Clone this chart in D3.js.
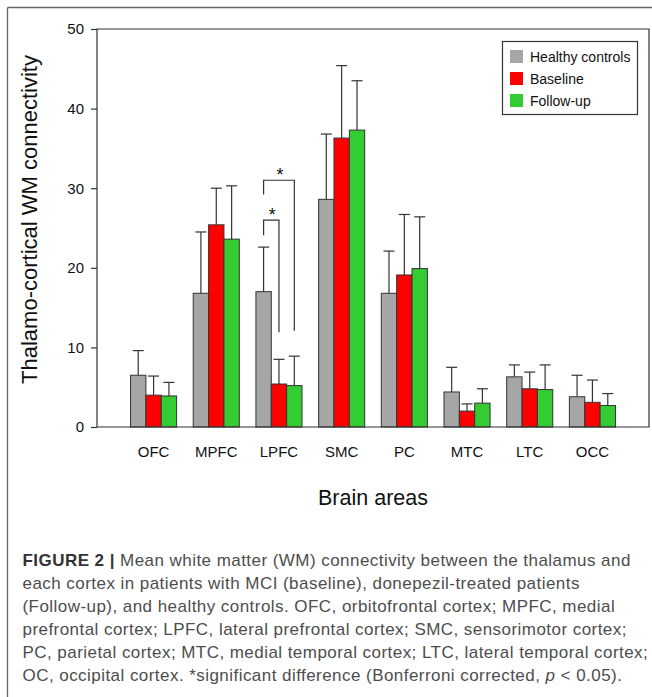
<!DOCTYPE html>
<html>
<head>
<meta charset="utf-8">
<script src="https://cdn.jsdelivr.net/npm/d3@7"></script>
<style>
  body { margin: 0; background: #fff; }
  svg { display: block; font-family: "Liberation Sans", Arial, sans-serif; }
</style>
</head>
<body>
<svg id="chart" width="652" height="697"></svg>
<script>
// brain areas on the x axis
var areas = ["OFC", "MPFC", "LPFC", "SMC", "PC", "MTC", "LTC", "OCC"];
var groups = ["Healthy controls", "Baseline", "Follow-up"];
var colors = ["#a6a6a6", "#ff0000", "#33cc33"];

// means
var controlMean = [6.5, 16.8, 17.0, 28.6, 16.8, 4.4, 6.3, 3.8];
var baselineMean = [4.0, 25.4, 5.4, 36.3, 19.1, 2.0, 4.8, 3.1];
var followupMean = [3.9, 23.6, 5.2, 37.3, 19.9, 3.0, 4.7, 2.7];

// upper end of each error bar
var controlErr = [9.6, 24.5, 22.6, 36.8, 22.1, 7.5, 7.8, 6.5];
var baselineErr = [6.4, 30.0, 8.5, 45.4, 26.7, 2.9, 6.9, 5.9];
var followupErr = [5.6, 30.3, 8.9, 43.5, 26.4, 4.8, 7.8, 4.2];

var yTicks = [0, 10, 20, 30, 40, 50];

// significance brackets (LPFC): top, left leg end, right leg end
var sigArea = ["LPFC", "LPFC"];
var sigFrom = ["Healthy controls", "Healthy controls"];
var sigTo = ["Baseline", "Follow-up"];
var sigTop = [26, 31];
var sigLeftEnd = [24.1, 29.2];
var sigRightEnd = [11.9, 12.1];

var captionLines = [
  "Mean white matter (WM) connectivity between the thalamus and",
  "each cortex in patients with MCI (baseline), donepezil-treated patients",
  "(Follow-up), and healthy controls. OFC, orbitofrontal cortex; MPFC, medial",
  "prefrontal cortex; LPFC, lateral prefrontal cortex; SMC, sensorimotor cortex;",
  "PC, parietal cortex; MTC, medial temporal cortex; LTC, lateral temporal cortex;",
  "OC, occipital cortex. *significant difference (Bonferroni corrected, "
];

var means = [controlMean, baselineMean, followupMean];
var errs = [controlErr, baselineErr, followupErr];

var svg = d3.select("#chart");
var axisColor = "#333";

var plotLeft = 97, plotRight = 649, plotTop = 29, plotBottom = 427;

var x = d3.scaleBand()
  .domain(areas)
  .range([plotLeft, plotRight])
  .paddingInner(0.265)
  .paddingOuter(0.535);

var xInner = d3.scaleBand()
  .domain(groups)
  .range([0, x.bandwidth()]);

var y = d3.scaleLinear()
  .domain([0, 50])
  .range([plotBottom, plotTop]);

// outer figure border (top and left only)
svg.append("line")
  .attr("x1", 7.5).attr("y1", 7.5).attr("x2", 652).attr("y2", 7.5)
  .attr("stroke", "#666").attr("stroke-width", 1.3);
svg.append("line")
  .attr("x1", 7.5).attr("y1", 7.5).attr("x2", 7.5).attr("y2", 697)
  .attr("stroke", "#666").attr("stroke-width", 1.3);

// rows for the bars
var rows = [];
areas.forEach(function(a, i) {
  groups.forEach(function(g, j) {
    rows.push({area: a, group: g, value: means[j][i], upper: errs[j][i], color: colors[j]});
  });
});

function cx(d) {
  return x(d.area) + xInner(d.group) + xInner.bandwidth() / 2;
}

// error bars first so the bar outline sits on top
var eb = svg.append("g").attr("class", "errorbars");
eb.selectAll("line.stem")
  .data(rows)
  .enter()
  .append("line")
  .attr("class", "stem")
  .attr("x1", cx)
  .attr("x2", cx)
  .attr("y1", d => y(d.value))
  .attr("y2", d => y(d.upper))
  .attr("stroke", axisColor)
  .attr("stroke-width", 1.2);

eb.selectAll("line.cap")
  .data(rows)
  .enter()
  .append("line")
  .attr("class", "cap")
  .attr("x1", d => cx(d) - 5.5)
  .attr("x2", d => cx(d) + 5.5)
  .attr("y1", d => y(d.upper))
  .attr("y2", d => y(d.upper))
  .attr("stroke", axisColor)
  .attr("stroke-width", 1.2);

svg.append("g")
  .selectAll("rect")
  .data(rows)
  .enter()
  .append("rect")
  .attr("x", d => x(d.area) + xInner(d.group))
  .attr("y", d => y(d.value))
  .attr("width", xInner.bandwidth())
  .attr("height", d => y(0) - y(d.value))
  .attr("fill", d => d.color)
  .attr("stroke", axisColor)
  .attr("stroke-width", 1);

// plot frame
svg.append("path")
  .attr("d", "M" + plotLeft + "," + plotBottom + "V" + plotTop + "H" + plotRight + "V" + plotBottom + "H" + plotLeft)
  .attr("fill", "none")
  .attr("stroke", axisColor)
  .attr("stroke-width", 1.2);

// y axis
var yAxis = svg.append("g")
  .attr("transform", "translate(" + plotLeft + ",0)")
  .call(d3.axisLeft(y).tickValues(yTicks).tickSize(6).tickPadding(7).tickSizeOuter(0));
yAxis.select(".domain").remove();
yAxis.selectAll("line").attr("stroke", axisColor).attr("stroke-width", 1.2);
yAxis.selectAll("text")
  .attr("fill", "#111")
  .style("font-size", "15px")
  .style("font-family", "'Liberation Sans', Arial, sans-serif");

// x labels
svg.append("g")
  .selectAll("text")
  .data(areas)
  .enter()
  .append("text")
  .attr("x", d => x(d) + x.bandwidth() / 2)
  .attr("y", 457)
  .attr("text-anchor", "middle")
  .attr("fill", "#111")
  .style("font-size", "15px")
  .text(d => d);

// axis titles
svg.append("text")
  .attr("transform", "translate(36.5," + ((57 + 382) / 2) + ")rotate(-90)")
  .attr("text-anchor", "middle")
  .attr("fill", "#111")
  .style("font-size", "22px")
  .text("Thalamo-cortical WM connectivity");

svg.append("text")
  .attr("x", (plotLeft + plotRight) / 2)
  .attr("y", 505)
  .attr("text-anchor", "middle")
  .attr("fill", "#111")
  .style("font-size", "21.5px")
  .text("Brain areas");

// significance brackets
var sig = sigArea.map(function(a, i) {
  return {
    x1: cx({area: a, group: sigFrom[i]}),
    x2: cx({area: a, group: sigTo[i]}),
    top: sigTop[i], l: sigLeftEnd[i], r: sigRightEnd[i]
  };
});
var sg = svg.append("g");
sg.selectAll("path")
  .data(sig)
  .enter()
  .append("path")
  .attr("d", d => "M" + d.x1 + "," + y(d.l) + "V" + y(d.top) + "H" + d.x2 + "V" + y(d.r))
  .attr("fill", "none")
  .attr("stroke", axisColor)
  .attr("stroke-width", 1.2);
sg.selectAll("text")
  .data(sig)
  .enter()
  .append("text")
  .attr("x", d => (d.x1 + d.x2) / 2 + 1)
  .attr("y", d => y(d.top) + 1)
  .attr("text-anchor", "middle")
  .attr("fill", "#111")
  .style("font-size", "18px")
  .text("*");

// legend
var legend = svg.append("g").attr("transform", "translate(502,41)");
legend.append("rect")
  .attr("x", 0.5).attr("y", 0.5)
  .attr("width", 135).attr("height", 73)
  .attr("fill", "#fff")
  .attr("stroke", axisColor)
  .attr("stroke-width", 1.2);
var li = legend.selectAll("g.item")
  .data(groups)
  .enter()
  .append("g")
  .attr("class", "item")
  .attr("transform", (d, i) => "translate(8," + (9 + i * 22) + ")");
li.append("rect")
  .attr("width", 13).attr("height", 13)
  .attr("fill", (d, i) => colors[i]);
li.append("text")
  .attr("x", 20)
  .attr("y", 11.5)
  .attr("fill", "#111")
  .style("font-size", "14px")
  .text(d => d);

// caption
var cap = svg.append("g")
  .style("font-size", "17px")
  .style("letter-spacing", "0.45px");
captionLines.forEach(function(line, i) {
  var t = cap.append("text")
    .attr("x", 22.5)
    .attr("y", 566 + i * 23)
    .attr("fill", "#4d4d4d");
  if (i === 0) {
    t.append("tspan").attr("font-weight", "bold").attr("fill", "#333").text("FIGURE 2 | ");
  }
  t.append("tspan").text(line);
  if (i === captionLines.length - 1) {
    t.append("tspan").attr("font-style", "italic").text("p");
    t.append("tspan").text(" < 0.05).");
  }
});
</script>
</body>
</html>
